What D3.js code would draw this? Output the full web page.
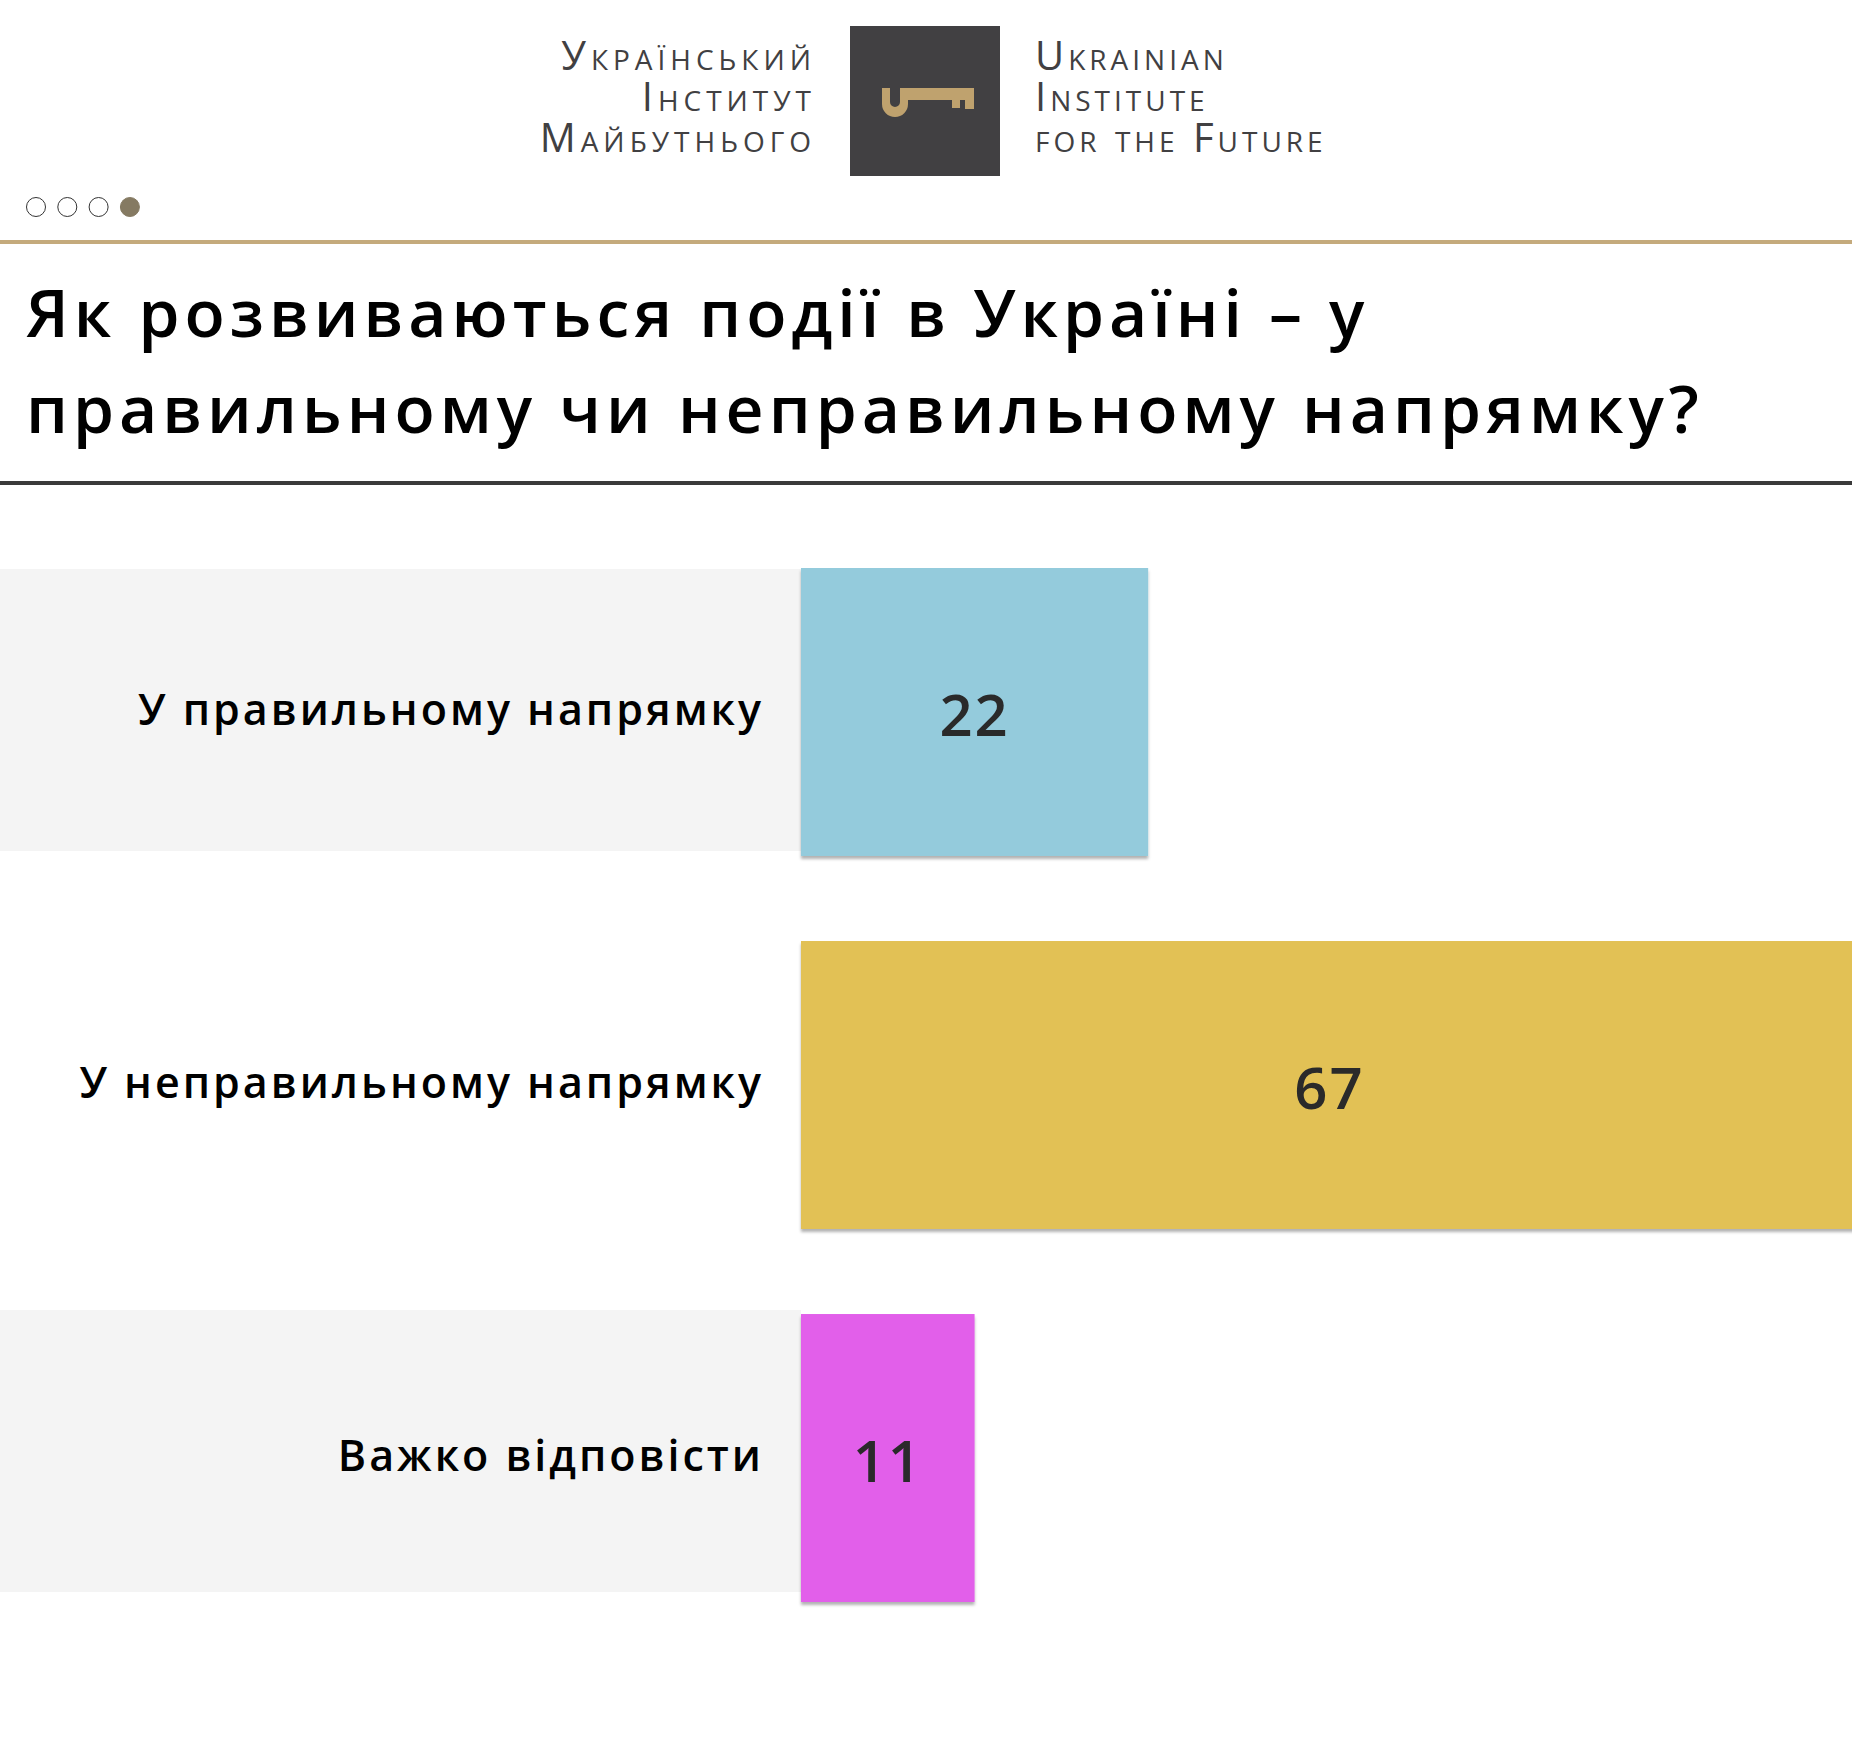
<!DOCTYPE html>
<html>
<head>
<meta charset="utf-8">
<script src="https://cdn.jsdelivr.net/npm/d3@7"></script>
<style>
  html, body { margin: 0; padding: 0; background: #fff; }
  #chart { width: 1852px; height: 1739px; }
</style>
</head>
<body>
<div id="chart"></div>
<script>
// Дані
const categories = ["У правильному напрямку", "У неправильному напрямку", "Важко відповісти"];
const values = [22, 67, 11];
const barColors = ["#94cbdc", "#e2c155", "#e25fea"];
const titleLines = ["Як розвиваються події в Україні – у", "правильному чи неправильному напрямку?"];
const logoLeft = ["Український", "Інститут", "Майбутнього"];
const logoRight = ["Ukrainian", "Institute", "for the Future"];

document.addEventListener("DOMContentLoaded", function () {
    const width = 1852, height = 1739;
    const barLeft = 801;

    const svg = d3.select("#chart")
        .append("svg")
        .attr("width", width)
        .attr("height", height);

    const defs = svg.append("defs");
    const shadow = defs.append("filter").attr("id", "shadow")
        .attr("x", "-5%").attr("y", "-5%").attr("width", "110%").attr("height", "115%");
    shadow.append("feDropShadow")
        .attr("dx", 0).attr("dy", 3).attr("stdDeviation", 1.5)
        .attr("flood-color", "#000").attr("flood-opacity", 0.3);

    // Логотип
    const logo = svg.append("g");
    logo.append("rect")
        .attr("x", 850).attr("y", 26).attr("width", 150).attr("height", 150)
        .attr("fill", "#414042");
    logo.append("path")
        .attr("fill", "#bfa26e")
        .attr("fill-rule", "evenodd")
        .attr("d", "M882,88 H974 V109 H965 V100 H960 V108 H952 V100 H908 V104 A13,13 0 0 1 882,104 Z M890,88 V102 A5,5 0 0 0 900,102 V88 Z");

    logo.selectAll(".logo-left")
        .data(logoLeft)
        .enter()
        .append("text")
        .attr("class", "logo-left")
        .attr("x", 816)
        .attr("y", (d, i) => 70 + i * 41)
        .attr("text-anchor", "end")
        .style("font-family", "'Open Sans', sans-serif")
        .style("font-variant", "small-caps")
        .style("font-size", "40px")
        .style("letter-spacing", "5px")
        .attr("fill", "#414042")
        .text(d => d);

    logo.selectAll(".logo-right")
        .data(logoRight)
        .enter()
        .append("text")
        .attr("class", "logo-right")
        .attr("x", 1035)
        .attr("y", (d, i) => 70 + i * 41)
        .style("font-family", "'Open Sans', sans-serif")
        .style("font-variant", "small-caps")
        .style("font-size", "40px")
        .style("letter-spacing", "4px")
        .attr("fill", "#414042")
        .text(d => d);

    // Крапки
    svg.selectAll(".dot")
        .data([0, 1, 2, 3])
        .enter()
        .append("circle")
        .attr("class", "dot")
        .attr("cx", d => 36 + d * 31.3)
        .attr("cy", 207)
        .attr("r", 9.5)
        .attr("fill", d => d === 3 ? "#857a62" : "#fff")
        .attr("stroke", d => d === 3 ? "#857a62" : "#333")
        .attr("stroke-width", 1);

    // Лінії
    svg.append("rect").attr("x", 0).attr("y", 240).attr("width", width).attr("height", 4).attr("fill", "#c4aa7c");
    svg.append("rect").attr("x", 0).attr("y", 481).attr("width", width).attr("height", 4).attr("fill", "#3a3a3a");

    // Заголовок
    svg.selectAll(".title")
        .data(titleLines)
        .enter()
        .append("text")
        .attr("class", "title")
        .attr("x", 26)
        .attr("y", (d, i) => 337 + i * 96)
        .style("font-family", "'Open Sans', sans-serif")
        .style("font-size", "66px")
        .style("font-weight", 600)
        .style("letter-spacing", "5px")
        .attr("fill", "#000")
        .text(d => d);

    // Шкали
    const x = d3.scaleLinear()
        .domain([0, 100])
        .range([0, 1578]);

    const y = d3.scaleBand()
        .domain(categories)
        .range([568, 1602])
        .paddingInner(0.228)
        .paddingOuter(0);

    const rows = categories.map((c, i) => ({ cat: c, value: values[i], color: barColors[i], i: i }));

    // Сірі смуги
    svg.selectAll(".band")
        .data(rows.filter(d => d.i % 2 === 0))
        .enter()
        .append("rect")
        .attr("class", "band")
        .attr("x", 0)
        .attr("y", d => y(d.cat) + (d.i === 0 ? 1 : -4))
        .attr("width", barLeft)
        .attr("height", y.bandwidth() - 6)
        .attr("fill", "#f4f4f4");

    // Стовпці
    svg.selectAll(".bar")
        .data(rows)
        .enter()
        .append("rect")
        .attr("class", "bar")
        .attr("x", barLeft)
        .attr("y", d => y(d.cat))
        .attr("width", d => x(d.value))
        .attr("height", y.bandwidth())
        .attr("fill", d => d.color)
        .attr("filter", "url(#shadow)");

    // Підписи категорій
    svg.selectAll(".label")
        .data(rows)
        .enter()
        .append("text")
        .attr("class", "label")
        .attr("x", 764)
        .attr("y", d => y(d.cat) + y.bandwidth() / 2 + 13)
        .attr("text-anchor", "end")
        .style("font-family", "'Open Sans', sans-serif")
        .style("font-size", "43px")
        .style("font-weight", 600)
        .style("letter-spacing", "3px")
        .attr("fill", "#000")
        .text(d => d.cat);

    // Значення
    svg.selectAll(".value")
        .data(rows)
        .enter()
        .append("text")
        .attr("class", "value")
        .attr("x", d => barLeft + Math.min(x(d.value), width - barLeft) / 2 + (d.i === 1 ? 3 : 0))
        .attr("y", d => y(d.cat) + y.bandwidth() / 2 + 24)
        .attr("text-anchor", "middle")
        .style("font-family", "'Open Sans', sans-serif")
        .style("font-size", "58px")
        .style("font-weight", 600)
        .style("letter-spacing", "2px")
        .attr("fill", "#2a2a2a")
        .text(d => d.value);
});
</script>
</body>
</html>
